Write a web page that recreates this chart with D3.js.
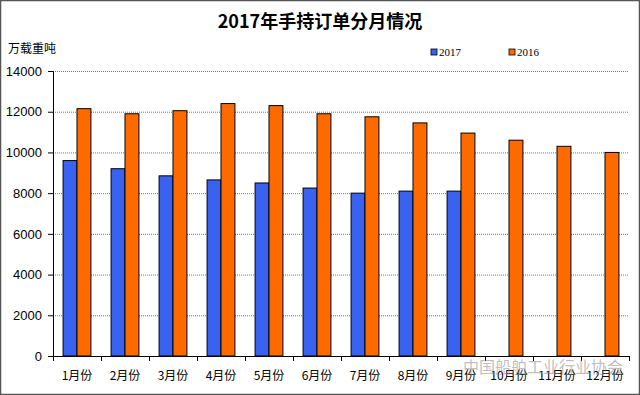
<!DOCTYPE html>
<html lang="zh">
<head>
<meta charset="UTF-8">
<title>2017年手持订单分月情况</title>
<script src="https://d3js.org/d3.v7.min.js"></script>
<style>
  body { margin: 0; background: #fff; }
  .ytick text { font-family: "Liberation Sans", Arial, sans-serif; font-size: 13px; fill: #000; }
  .xtick text { font-family: "Noto Sans CJK SC", sans-serif; font-size: 12px; fill: #000; }
</style>
</head>
<body>
<div id="chart"></div>
<script>
var months = ["1月份","2月份","3月份","4月份","5月份","6月份","7月份","8月份","9月份","10月份","11月份","12月份"];
var values2017 = [9600, 9200, 8850, 8650, 8500, 8250, 8000, 8100, 8100, null, null, null];
var values2016 = [12150, 11900, 12050, 12400, 12300, 11900, 11750, 11450, 10950, 10600, 10300, 10000];
var yTicks = [0, 2000, 4000, 6000, 8000, 10000, 12000, 14000];
var seriesNames = ["2017", "2016"];
var colors = ["#3a62f0", "#ff6a00"];

var W = 640, H = 395;
var margin = { top: 71, right: 11, bottom: 39, left: 53 };
var width = W - margin.left - margin.right,
    height = H - margin.top - margin.bottom;

var svg = d3.select("#chart").append("svg")
    .attr("width", W).attr("height", H);

// frame
svg.append("rect").attr("x", 0.5).attr("y", 0.5)
    .attr("width", W - 1).attr("height", H - 1)
    .attr("fill", "#fff").attr("stroke", "#555").attr("stroke-width", 1.5);

svg.append("text").attr("x", W / 2).attr("y", 28)
    .attr("text-anchor", "middle")
    .style("font-family", "'Noto Sans CJK SC', sans-serif")
    .style("font-weight", "bold").style("font-size", "18px")
    .text("2017年手持订单分月情况");

svg.append("text").attr("x", 8).attr("y", 53)
    .style("font-family", "'Noto Sans CJK SC', sans-serif")
    .style("font-size", "12px")
    .text("万载重吨");

var g = svg.append("g").attr("transform", "translate(" + margin.left + "," + margin.top + ")");

var x = d3.scaleBand().domain(months).range([0, width]).paddingInner(0.42).paddingOuter(0.21);
var x1 = d3.scaleBand().domain(seriesNames).range([0, x.bandwidth()]);
var y = d3.scaleLinear().domain([0, 14000]).range([height, 0]);

// gridlines
g.selectAll(".grid").data(yTicks.filter(function (d) { return d > 0; }))
    .enter().append("line")
    .attr("x1", 0).attr("x2", width)
    .attr("y1", function (d) { return y(d) + 0.5; })
    .attr("y2", function (d) { return y(d) + 0.5; })
    .attr("stroke", "#777").attr("stroke-dasharray", "1,1");

// bars
var data = [values2017, values2016];
data.forEach(function (vals, s) {
    g.selectAll(".bar" + s)
        .data(vals.map(function (v, i) { return { m: months[i], v: v }; }).filter(function (d) { return d.v != null; }))
        .enter().append("rect")
        .attr("x", function (d) { return x(d.m) + x1(seriesNames[s]); })
        .attr("y", function (d) { return y(d.v); })
        .attr("width", x1.bandwidth())
        .attr("height", function (d) { return height - y(d.v); })
        .attr("fill", colors[s])
        .attr("stroke", "#000").attr("stroke-width", 1);
});

// y axis
var yAxis = g.append("g").attr("class", "ytick")
    .call(d3.axisLeft(y).tickValues(yTicks).tickSize(5).tickPadding(6).tickFormat(d3.format("d")));
yAxis.select(".domain").attr("stroke", "#000");
yAxis.selectAll(".tick line").attr("stroke", "#000");

// x axis with ticks between categories
var xAxis = g.append("g").attr("class", "xtick").attr("transform", "translate(0," + height + ")");
xAxis.append("line").attr("x1", 0).attr("x2", width).attr("y1", 0.5).attr("y2", 0.5).attr("stroke", "#000");
var step = x.step();
xAxis.selectAll(".sep").data(d3.range(months.length + 1)).enter().append("line")
    .attr("x1", function (i) { return Math.round(i * step) + 0.5; })
    .attr("x2", function (i) { return Math.round(i * step) + 0.5; })
    .attr("y1", 0).attr("y2", 5).attr("stroke", "#000");
xAxis.selectAll("text").data(months).enter().append("text")
    .attr("x", function (d) { return x(d) + x.bandwidth() / 2; })
    .attr("y", 24).attr("text-anchor", "middle")
    .text(function (d) { return d; });

// legend
var legend = svg.selectAll(".legend").data(seriesNames).enter().append("g")
    .attr("transform", function (d, i) { return "translate(" + (431 + i * 78) + ",49)"; });
legend.append("rect").attr("width", 6).attr("height", 6)
    .attr("fill", function (d, i) { return colors[i]; })
    .attr("stroke", "#000").attr("stroke-width", 0.8);
legend.append("text").attr("x", 8).attr("y", 7)
    .style("font-family", "'Liberation Serif', serif").style("font-size", "11px")
    .text(function (d) { return d; });

// watermark
svg.append("text").attr("x", 463).attr("y", 373)
    .style("font-family", "'Noto Sans CJK SC', sans-serif").style("font-size", "16px")
    .attr("fill", "#888").attr("fill-opacity", 0.55)
    .text("中国船舶工业行业协会");
</script>
</body>
</html>
